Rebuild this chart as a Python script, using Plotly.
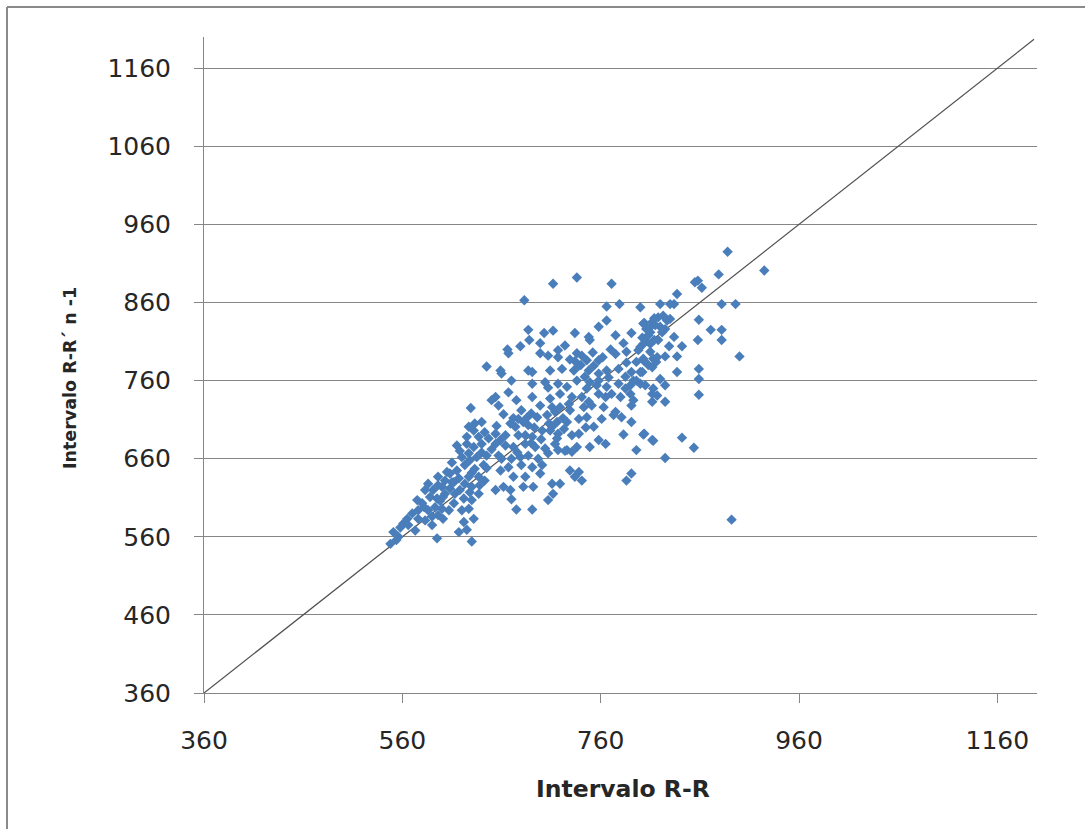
import plotly.graph_objects as go

# Intervalo R-R (x) and Intervalo R-R n-1 (y)
rr = [
    712, 736, 771, 888, 879, 855, 858, 862, 925,
    820, 830, 834, 837, 882, 896, 859, 871, 882, 858, 882, 900, 892,
    803, 807, 812, 815, 818, 823, 827, 830, 820, 825, 822, 808, 805, 810, 800, 834, 829, 842,
    803, 808, 817, 825, 837, 816, 800, 837, 820, 825, 813, 817, 812, 825, 800, 859, 859, 859,
    804, 813, 842, 854, 825,
    683,
    766, 779, 800,
    766, 758, 804, 812,
    687, 703, 712, 734, 748, 775, 791, 810,
    688, 699, 679, 666, 667, 699, 717, 724, 736, 749, 783, 803, 814,
    645, 707, 717, 729, 741, 746, 758, 775, 786, 798, 803, 813,
    660, 659, 687, 691, 709, 721, 733, 748, 758, 766, 778, 791, 802, 812,
    670, 691, 704, 707, 717, 726, 736, 749, 758, 766, 778, 785, 793, 805,
    650, 654, 667, 675, 691, 709, 719, 731, 741, 748, 758, 765, 771, 780, 790, 793, 812,
    629, 657, 662, 680, 699, 711, 719, 729, 743, 751, 763, 775, 791,
    633, 640, 669, 677, 686, 696, 706, 716, 726, 738, 746, 753, 761, 773, 781, 791,
    625, 632, 643, 654, 677, 691, 701, 711, 717, 731, 738, 758, 765, 783, 803, 812,
    615, 625, 632, 640, 654, 664, 672, 684, 694, 704, 714, 726, 736, 749, 796,
    620, 627, 635, 645, 657, 670, 679, 687, 697, 707, 717, 724, 731,
    608, 615, 623, 633, 642, 659, 667, 680, 691, 701, 729, 738, 791,
    596, 603, 610, 617, 627, 637, 643, 672, 684, 699, 711, 719, 734, 741, 786,
    583, 591, 600, 608, 618, 628, 637, 654, 662, 669, 682, 692, 712,
    575, 588, 595, 601, 612, 622, 630, 670, 707,
    576, 586, 593, 600, 607, 620, 627, 675, 691,
    561, 576, 583, 590, 601, 622, 632,
    551, 558, 566, 573, 617, 625, 595, 556,
    548, 554, 630,
    605, 630, 638, 613, 623, 596, 586, 674, 687, 682, 738, 753, 744, 785, 796, 790,
    580, 596, 590, 647, 659, 627, 637, 709, 723,
    610, 618, 628, 640, 612, 630, 645, 650, 603, 598,
    676, 684, 693, 672, 690, 664,
    714, 722, 708, 728, 716,
    740, 752, 762, 768, 746, 756, 734, 770,
    806, 814, 802, 810, 818, 796, 786,
    582, 570, 565, 655, 660, 700, 745, 690,
]
rr_prev = [
    884, 892, 884, 925, 896, 886, 888, 879, 901,
    858, 858, 858, 871, 858, 858, 838, 825, 825, 812, 812, 791, 582,
    833, 826, 835, 831, 841, 843, 837, 839, 829, 826, 822, 818, 811, 807, 803, 816, 804, 804,
    788, 780, 790, 791, 791, 784, 771, 771, 762, 754, 750, 741, 733, 733, 756, 775, 762, 742,
    692, 683, 687, 674, 661,
    863,
    855, 858, 854,
    837, 829, 834, 831,
    825, 821, 824, 821, 816, 818, 821, 822,
    812, 808, 804, 800, 795, 795, 799, 805, 795, 812, 808, 807, 812,
    778, 792, 790, 787, 792, 786, 786, 794, 797, 799, 786, 788,
    769, 773, 773, 771, 773, 775, 773, 773, 769, 773, 775, 771, 771, 777,
    760, 756, 758, 751, 756, 752, 760, 758, 760, 752, 756, 750, 760, 754,
    735, 739, 745, 735, 739, 737, 743, 739, 739, 733, 743, 739, 743, 739, 743, 735, 743,
    725, 728, 717, 722, 728, 726, 726, 722, 726, 728, 726, 720, 728,
    705, 707, 705, 711, 713, 713, 716, 707, 707, 711, 713, 701, 711, 716, 713, 707,
    688, 696, 694, 692, 690, 688, 696, 701, 692, 690, 692, 684, 679, 691, 691, 684,
    677, 679, 675, 679, 679, 677, 675, 679, 675, 673, 679, 671, 675, 675, 671,
    662, 667, 662, 664, 664, 660, 662, 664, 660, 667, 671, 670, 669,
    641, 645, 652, 647, 652, 645, 649, 652, 649, 652, 645, 643, 641,
    637, 632, 630, 635, 637, 637, 632, 637, 637, 641, 628, 628, 637, 632, 632,
    620, 620, 624, 622, 620, 617, 615, 620, 624, 620, 624, 624, 615,
    607, 611, 609, 611, 603, 609, 607, 608, 607,
    594, 594, 598, 596, 594, 594, 596, 595, 595,
    577, 583, 581, 586, 583, 579, 583,
    566, 572, 575, 568, 566, 569, 558, 560,
    551, 556, 554,
    643, 642, 626, 615, 628, 626, 628, 701, 703, 707, 779, 779, 765, 765, 784, 754,
    603, 588, 575, 686, 684, 701, 688, 696, 698,
    655, 670, 658, 668, 630, 624, 648, 672, 615, 606,
    668, 690, 700, 712, 718, 690,
    720, 712, 705, 730, 686,
    780, 796, 790, 764, 750, 754, 785, 800,
    826, 840, 815, 797, 812, 760, 783,
    598, 590, 583, 702, 660, 685, 700, 680,
]

identity_line = [360, 1197]
x_ticks = [360, 560, 760, 960, 1160]
y_ticks = [360, 460, 560, 660, 760, 860, 960, 1060, 1160]

fig = go.Figure()
fig.add_trace(go.Scatter(
    x=identity_line, y=identity_line, mode="lines",
    line=dict(color="#505050", width=1.2), hoverinfo="skip", showlegend=False,
))
fig.add_trace(go.Scatter(
    x=rr, y=rr_prev, mode="markers",
    marker=dict(symbol="diamond", size=8, color="#4A7EBB", line=dict(width=0)),
    showlegend=False,
))

tick_font = dict(family="DejaVu Sans", size=25, color="#262626")
fig.update_layout(
    width=1085, height=829,
    margin=dict(l=204, r=48, t=37, b=136),
    paper_bgcolor="white", plot_bgcolor="white",
    xaxis=dict(
        range=[360, 1200], tickvals=x_ticks, ticktext=[str(v) for v in x_ticks],
        showgrid=False, zeroline=False, showline=True, linecolor="#868686", linewidth=1,
        ticks="outside", ticklen=9, tickcolor="#868686", tickfont=tick_font,
        ticklabelstandoff=16,
    ),
    yaxis=dict(
        range=[360, 1200], tickvals=y_ticks, ticktext=[str(v) for v in y_ticks],
        showgrid=True, gridcolor="#868686", gridwidth=1, zeroline=False,
        showline=True, linecolor="#868686", linewidth=1,
        ticks="outside", ticklen=9, tickcolor="#868686", tickfont=tick_font,
        ticklabelstandoff=18,
    ),
    annotations=[
        dict(text="<b>Intervalo R-R</b>", xref="paper", yref="paper",
             x=0.503, y=-0.146, xanchor="center", yanchor="middle", showarrow=False,
             font=dict(family="DejaVu Sans", size=23.5, color="#262626")),
        dict(text="<b>Intervalo R-R´ n -1</b>", xref="paper", yref="paper",
             x=-0.161, y=0.48, xanchor="center", yanchor="middle", showarrow=False,
             textangle=-90,
             font=dict(family="DejaVu Sans", size=17.5, color="#262626")),
    ],
    shapes=[
        dict(type="line", xref="paper", yref="paper", x0=-0.2365, x1=1.2, y0=1.0457, y1=1.0457,
             line=dict(color="#8a8a8a", width=2)),
        dict(type="line", xref="paper", yref="paper", x0=-0.2365, x1=-0.2365, y0=1.0457, y1=-0.3,
             line=dict(color="#8a8a8a", width=2)),
    ],
)

fig.write_html("out.html", config={"displayModeBar": False},
               post_script="document.body.style.margin='0px';")
